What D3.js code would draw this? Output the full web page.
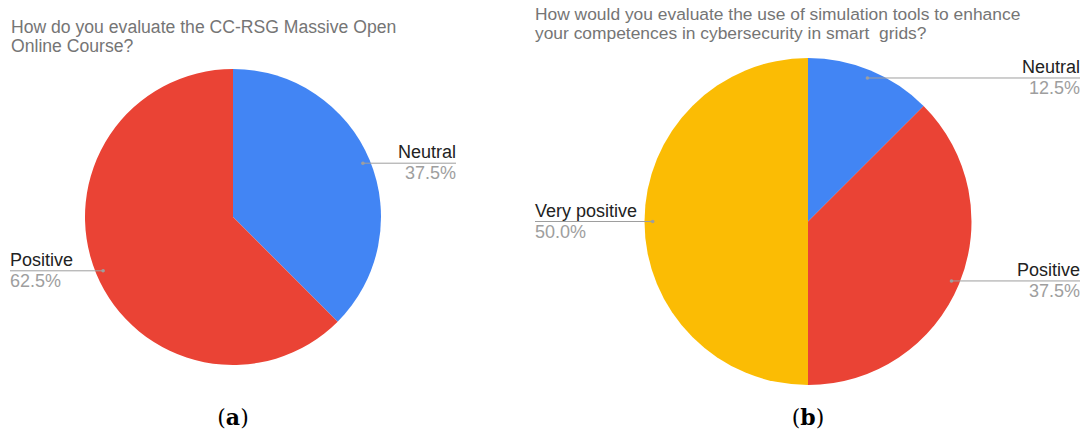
<!DOCTYPE html>
<html>
<head>
<meta charset="utf-8">
<script src="https://cdn.jsdelivr.net/npm/d3@7"></script>
<style>
  html, body { margin: 0; padding: 0; background: #fff; }
  svg { display: block; }
  text { white-space: pre; }
</style>
</head>
<body>
<svg id="chart" width="1085" height="437"></svg>
<script>
// Survey answers, one pie per question
const categoriesA = ["Neutral", "Positive"];
const valuesA = [37.5, 62.5];
const titleA = ["How do you evaluate the CC-RSG Massive Open", "Online Course?"];

const categoriesB = ["Neutral", "Positive", "Very positive"];
const valuesB = [12.5, 37.5, 50.0];
const titleB = ["How would you evaluate the use of simulation tools to enhance", "your competences in cybersecurity in smart  grids?"];

const captions = ["a", "b"];

const colorScale = d3.scaleOrdinal()
  .domain(["Neutral", "Positive", "Very positive"])
  .range(["#4285f4", "#ea4335", "#fbbc04"]);

const svg = d3.select("#chart");

function drawPie(cfg) {
  const g = svg.append("g");

  // title
  const title = g.append("text")
    .attr("font-family", "Liberation Sans, Arial, sans-serif")
    .attr("font-size", cfg.titleSize)
    .attr("fill", "#757575");
  cfg.title.forEach((line, i) => {
    title.append("tspan").attr("x", cfg.titleX).attr("y", cfg.titleY + i * cfg.titleLead).text(line);
  });

  const data = cfg.categories.map((c, i) => ({ name: c, value: cfg.values[i] }));
  const pie = d3.pie().sort(null).value(d => d.value).startAngle(0).endAngle(2 * Math.PI);
  const arcs = pie(data);
  const arc = d3.arc().innerRadius(0).outerRadius(cfg.r);
  const dotArc = d3.arc().innerRadius(cfg.r * 0.95).outerRadius(cfg.r * 0.95);

  const pg = g.append("g").attr("transform", `translate(${cfg.cx},${cfg.cy})`);
  pg.selectAll("path.slice").data(arcs).join("path")
    .attr("class", "slice")
    .attr("d", arc)
    .attr("fill", d => colorScale(d.data.name));

  // leader lines and labels
  arcs.forEach(d => {
    const [px, py] = dotArc.centroid(d);
    const x = cfg.cx + px, y = cfg.cy + py;
    const right = px > 0;
    const endX = right ? cfg.labelRight : cfg.labelLeft;
    g.append("line")
      .attr("x1", x).attr("y1", y).attr("x2", endX).attr("y2", y)
      .attr("stroke", "#9e9e9e").attr("stroke-width", 1);
    g.append("circle").attr("cx", x).attr("cy", y).attr("r", 1.8).attr("fill", "#9e9e9e");
    const anchor = right ? "end" : "start";
    g.append("text")
      .attr("x", endX).attr("y", y - 5)
      .attr("text-anchor", anchor)
      .attr("font-family", "Liberation Sans, Arial, sans-serif")
      .attr("font-size", 18)
      .attr("fill", "#222")
      .text(d.data.name);
    g.append("text")
      .attr("x", endX).attr("y", y + 16)
      .attr("text-anchor", anchor)
      .attr("font-family", "Liberation Sans, Arial, sans-serif")
      .attr("font-size", 18)
      .attr("fill", "#9e9e9e")
      .text(d3.format(".1f")(d.data.value) + "%");
  });

  // panel caption
  const cap = g.append("text")
    .attr("x", cfg.cx).attr("y", 425)
    .attr("text-anchor", "middle")
    .attr("font-family", "DejaVu Serif, Liberation Serif, serif")
    .attr("font-size", 22)
    .attr("fill", "#000");
  cap.append("tspan").text("(");
  cap.append("tspan").attr("font-weight", "bold").text(cfg.caption);
  cap.append("tspan").text(")");
}

drawPie({
  categories: categoriesA, values: valuesA, title: titleA, caption: captions[0],
  cx: 233, cy: 217, r: 148, titleX: 11, titleY: 33, titleSize: 17.6, titleLead: 19,
  labelLeft: 10, labelRight: 456
});

drawPie({
  categories: categoriesB, values: valuesB, title: titleB, caption: captions[1],
  cx: 808, cy: 221.5, r: 163.5, titleX: 535, titleY: 20, titleSize: 17.4, titleLead: 18.5,
  labelLeft: 535, labelRight: 1080
});
</script>
</body>
</html>
